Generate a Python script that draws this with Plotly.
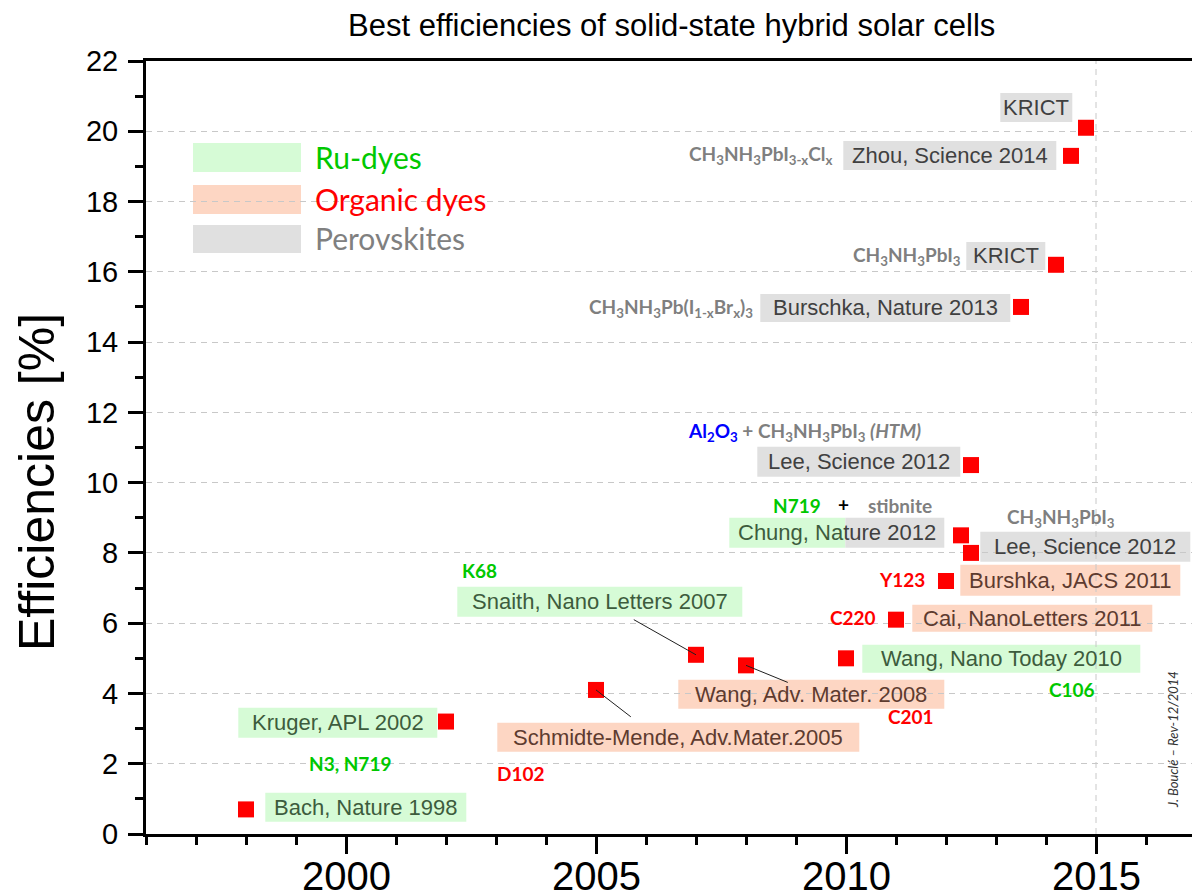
import re
import plotly.graph_objects as go

# ---------------- data ----------------
years = [1998, 2002, 2005, 2007, 2008, 2010, 2011, 2012, 2012.3, 2012.5, 2012.5, 2013.5, 2014.2, 2014.5, 2014.8]
effs = [0.7, 3.2, 4.1, 5.1, 4.8, 5.0, 6.1, 7.2, 8.5, 8.0, 10.5, 15.0, 16.2, 19.3, 20.1]
refs = ["Bach, Nature 1998", "Kruger, APL 2002", "Schmidte-Mende, Adv.Mater.2005",
        "Snaith, Nano Letters 2007", "Wang, Adv. Mater. 2008", "Wang, Nano Today 2010",
        "Cai, NanoLetters 2011", "Burshka, JACS 2011", "Chung, Nature 2012",
        "Lee, Science 2012", "Lee, Science 2012", "Burschka, Nature 2013",
        "KRICT", "Zhou, Science 2014", "KRICT"]
families = ["Ru", "Ru", "Org", "Ru", "Org", "Ru", "Org", "Org", "Mix",
            "Pero", "Pero", "Pero", "Pero", "Pero", "Pero"]
x_ticks = [2000, 2005, 2010, 2015]
x_ticklabels = ["2000", "2005", "2010", "2015"]
y_ticks = [0, 2, 4, 6, 8, 10, 12, 14, 16, 18, 20, 22]
x_grid = [2015]
legend_names = ["Ru-dyes", "Organic dyes", "Perovskites"]
legend_fams = ["Ru", "Org", "Pero"]

# material labels: (text, family colour key, anchor point index)
materials = [
    ("K68", "Ru", 3), ("N3, N719", "Ru", 1), ("D102", "Org", 2), ("C201", "Org", 4),
    ("C106", "Ru", 5), ("C220", "Org", 6), ("Y123", "Org", 7),
    ("N719", "Ru", 8), ("+", "Plus", 8), ("stibnite", "Pero", 8),
    ("<span style='color:#0000ff'>Al<sub>2</sub>O<sub>3</sub></span> + CH<sub>3</sub>NH<sub>3</sub>PbI<sub>3</sub> <i>(HTM)</i>", "Pero", 10),
    ("CH<sub>3</sub>NH<sub>3</sub>PbI<sub>3</sub>", "Pero", 9),
    ("CH<sub>3</sub>NH<sub>3</sub>Pb(I<sub>1-x</sub>Br<sub>x</sub>)<sub>3</sub>", "Pero", 11),
    ("CH<sub>3</sub>NH<sub>3</sub>PbI<sub>3</sub>", "Pero", 12),
    ("CH<sub>3</sub>NH<sub>3</sub>PbI<sub>3-x</sub>Cl<sub>x</sub>", "Pero", 13),
]

# ---------------- styles / layout ----------------
W, H = 1192, 896
L, T, PW, PH = 146, 61, 1046, 773
X0 = 1996
XR = X0 + PW / 50.0

FILL = {"Ru": "#d6fbd6", "Org": "#fdd6c3", "Pero": "#e0e0e0"}
TXT = {"Ru": "#3d5c3d", "Org": "#5e3b2f", "Pero": "#404040"}
LBL = {"Ru": "#00c800", "Org": "#ff0000", "Pero": "#7f7f7f", "Plus": "#000000"}

# box pixel offsets relative to each point (x0, x1, y0, y1); y positive = up
BOX = [(19.3, 220.3, -12.3, 16.7), (-207.7, -8.7, -16.2, 13.8), (-98.7, 263.3, -61.8, -32.8),
       (-238.7, 46.3, 38, 68), (-67.7, 198.3, -43.4, -14.4), (16.3, 294.3, -14.5, 13.5),
       (16.3, 256.3, -12.1, 14.9), (14.3, 234.3, -14.8, 16.2), (-231.7, -16.7, -12.5, 17.5),
       (9.3, 219.3, -8.9, 21.1), (-213.7, -10.7, -11.8, 18.2), (-260.7, -10.7, -15, 13),
       (-89.7, -10.7, -5.1, 22.9), (-227.7, -14.7, -14.1, 14.9), (-85.7, -13.7, 5.8, 34.8)]
MIX_SPLIT = -115.7
# material label offsets (xshift, yshift, xanchor)
MAT_POS = [(-216.7, 84, "center"), (-96.2, -42.2, "center"), (-74.7, -83.8, "center"),
           (165.3, -51.4, "center"), (226.3, -31.5, "center"), (-18, 1.9, "right"),
           (-19, 1.2, "right"), (-163.7, 29.5, "center"), (-117.7, 30.5, "center"),
           (-60.7, 29.5, "center"), (-166.7, 33.2, "center"), (90.3, 35.1, "center"),
           (-265.7, -1, "right"), (-92.7, 9, "right"), (-235.7, 1, "right")]
ARROWS = {2: (36.3, 28), 3: (-63.7, -36), 4: (43.3, 17.7)}


def pxx(px):
    return (px - L) / PW


def pxy(py):
    return (T + PH - py) / PH


fig = go.Figure()
fig.add_trace(go.Scatter(x=years, y=effs, mode="markers",
                         marker=dict(symbol="square", size=16, color="#ff0000", line=dict(width=0)),
                         hoverinfo="skip", showlegend=False))

BOXFONT = "Liberation Sans, Arial, sans-serif"
LBLFONT = "Lato, Open Sans, sans-serif"

for i, (x0, x1, y0, y1) in enumerate(BOX):
    fam = families[i]
    common = dict(type="rect", xref="x", yref="y", xsizemode="pixel", ysizemode="pixel",
                  xanchor=years[i], yanchor=effs[i], y0=y0, y1=y1, line=dict(width=0), layer="below")
    if fam == "Mix":
        fig.add_shape(x0=x0, x1=MIX_SPLIT, fillcolor=FILL["Ru"], **common)
        fig.add_shape(x0=MIX_SPLIT, x1=x1, fillcolor=FILL["Pero"], **common)
        txt = ("<span style='color:%s'>Chung, Na</span><span style='color:%s'>ture 2012</span>"
               % (TXT["Ru"], TXT["Pero"]))
        col = TXT["Pero"]
    else:
        fig.add_shape(x0=x0, x1=x1, fillcolor=FILL[fam], **common)
        txt = refs[i]
        col = TXT[fam]
    fig.add_annotation(x=years[i], y=effs[i], xref="x", yref="y", text=txt, showarrow=False,
                       xshift=(x0 + x1) / 2, yshift=(y0 + y1) / 2, xanchor="center", yanchor="middle",
                       font=dict(family=BOXFONT, size=22, color=col))

for i, (ax, ay) in ARROWS.items():
    fig.add_annotation(x=years[i], y=effs[i], xref="x", yref="y", text="", showarrow=True,
                       ax=ax, ay=ay, arrowhead=0, arrowwidth=1, arrowcolor="#202020", standoff=0)

for (txt, fam, idx), (xs, ys, xa) in zip(materials, MAT_POS):
    fig.add_annotation(x=years[idx], y=effs[idx], xref="x", yref="y", text="<b>%s</b>" % txt,
                       showarrow=False, xshift=xs, yshift=ys, xanchor=xa, yanchor="middle",
                       font=dict(family=LBLFONT, size=19, color=LBL[fam]))

# vertical grid line
for gx in x_grid:
    fig.add_shape(type="line", xref="x", yref="y", x0=gx, x1=gx, y0=y_ticks[0], y1=y_ticks[-1],
                  line=dict(color="#c8c8c8", width=1, dash="6px,5px"), layer="below")

# x tick labels
for tv, tl in zip(x_ticks, x_ticklabels):
    fig.add_annotation(x=tv, xref="x", y=0, yref="paper", text=tl, showarrow=False,
                       xanchor="center", yanchor="middle", yshift=-42,
                       font=dict(family=BOXFONT, size=40, color="black"))

# legend
LEG_RECTS = [(193, 301, 143, 172), (193, 301, 185, 214), (193, 301, 225, 253)]
LEG_TXT_Y = [157, 199, 238]
for name, fam, (a, b, c, d), ty in zip(legend_names, legend_fams, LEG_RECTS, LEG_TXT_Y):
    fig.add_shape(type="rect", xref="paper", yref="paper", x0=pxx(a), x1=pxx(b), y0=pxy(d), y1=pxy(c),
                  fillcolor=FILL[fam], line=dict(width=0), layer="below")
    fig.add_annotation(xref="paper", yref="paper", x=pxx(313), y=pxy(ty), text=name, showarrow=False,
                       xanchor="left", yanchor="middle",
                       font=dict(family=LBLFONT, size=30, color=LBL[fam] if fam != "Pero" else "#808080"))

# title
fig.add_annotation(xref="paper", yref="paper", x=pxx(671), y=pxy(25),
                   text="Best efficiencies of solid-state hybrid solar cells", showarrow=False,
                   xanchor="center", yanchor="middle",
                   font=dict(family=BOXFONT, size=31, color="black"))
# y title
fig.add_annotation(xref="paper", yref="paper", x=pxx(37), y=pxy(482), text="Efficiencies [%]",
                   textangle=-90, showarrow=False, xanchor="center", yanchor="middle",
                   font=dict(family=BOXFONT, size=50, color="black"))
# watermark
fig.add_annotation(xref="paper", yref="paper", x=pxx(1173), y=pxy(740), text="<i>J. Bouclé – Rev-12/2014</i>",
                   textangle=-90, showarrow=False, xanchor="center", yanchor="middle",
                   font=dict(family=LBLFONT, size=13, color="#333333"))

fig.update_layout(
    width=W, height=H, margin=dict(l=L, r=W - L - PW, t=T, b=H - T - PH, autoexpand=False),
    paper_bgcolor="white", plot_bgcolor="white", showlegend=False, hovermode=False,
    xaxis=dict(range=[X0, XR], tickvals=x_ticks, showticklabels=False, ticks="outside", ticklen=17,
               tickwidth=2.5, tickcolor="black", showline=True, mirror=True, linewidth=3, linecolor="black",
               showgrid=False, zeroline=False,
               minor=dict(ticks="outside", ticklen=8, tickwidth=2.5, tickcolor="black", dtick=1, tick0=X0)),
    yaxis=dict(range=[y_ticks[0], y_ticks[-1]], tickvals=y_ticks, ticks="outside", ticklen=15, tickwidth=2.5,
               tickcolor="black", showline=True, linewidth=3, linecolor="black",
               showgrid=True, gridcolor="#c8c8c8", gridwidth=1, griddash="6px,5px", zeroline=False,
               tickfont=dict(family=BOXFONT, size=29, color="black"), ticklabelstandoff=4,
               minor=dict(ticks="outside", ticklen=8, tickwidth=2.5, tickcolor="black", dtick=1, tick0=0,
                          showgrid=False)),
)

fig.write_html("out.html", config={"displayModeBar": False})

# remove the browser's default page margin so the figure sits at the window origin
with open("out.html", "r", encoding="utf-8") as f:
    html = f.read()
html = re.sub(r"<body>", '<body style="margin:0;padding:0;overflow:hidden">', html, count=1)
with open("out.html", "w", encoding="utf-8") as f:
    f.write(html)
